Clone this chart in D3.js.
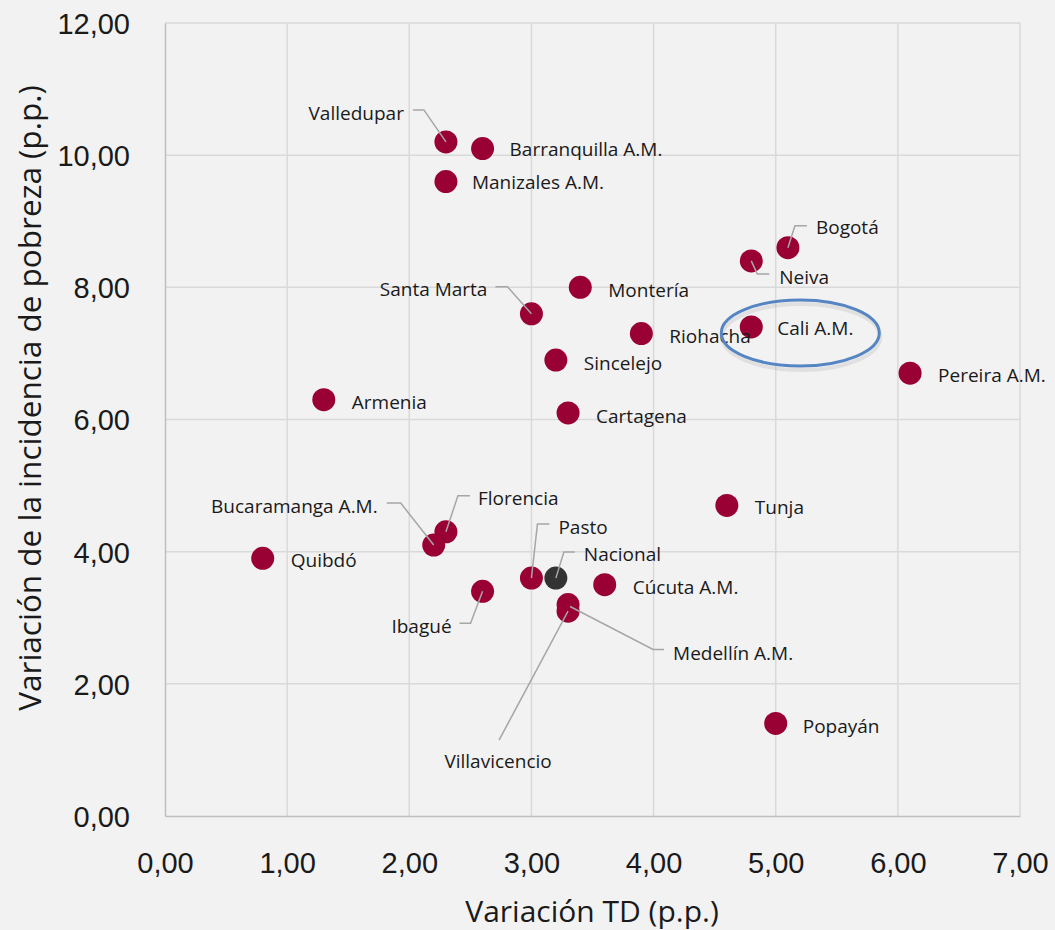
<!DOCTYPE html>
<html><head><meta charset="utf-8">
<script src="https://cdn.jsdelivr.net/npm/d3@7"></script>
<style>
html,body{margin:0;padding:0;background:#f2f2f2;}
svg{display:block;font-family:"Open Sans","Noto Sans",sans-serif;}
</style></head>
<body><svg id="c" width="1055" height="930"></svg>
<script>
// ---- data ----
const cities = ["Valledupar","Barranquilla A.M.","Manizales A.M.","Bogotá","Neiva","Santa Marta","Montería","Riohacha","Cali A.M.","Pereira A.M.","Sincelejo","Armenia","Cartagena","Tunja","Florencia","Bucaramanga A.M.","Quibdó","Pasto","Nacional","Cúcuta A.M.","Ibagué","Medellín A.M.","Villavicencio","Popayán"];
const tdVariation = [2.3,2.6,2.3,5.1,4.8,3.0,3.4,3.9,4.8,6.1,3.2,1.3,3.3,4.6,2.3,2.2,0.8,3.0,3.2,3.6,2.6,3.3,3.3,5.0];
const povertyVariation = [10.2,10.1,9.6,8.6,8.4,7.6,8.0,7.3,7.4,6.7,6.9,6.3,6.1,4.7,4.3,4.1,3.9,3.6,3.6,3.5,3.4,3.2,3.1,1.4];
const xTicks = [0,1,2,3,4,5,6,7];
const yTicks = [0,2,4,6,8,10,12];
const xTitle = "Variación TD (p.p.)";
const yTitle = "Variación de la incidencia de pobreza (p.p.)";
const highlighted = "Cali A.M.";
const nationalName = "Nacional";

// label layout (pixel offsets from point): [dx, dy, anchor, leader points relative to point]
const labelLayout = {
  "Valledupar": {dx:-42,dy:-29,a:"end",leader:[[0,0],[-22,-32],[-33,-32]]},
  "Barranquilla A.M.": {dx:27,dy:1,a:"start"},
  "Manizales A.M.": {dx:26,dy:1,a:"start"},
  "Bogotá": {dx:28,dy:-20,a:"start",leader:[[0,0],[7,-22],[19,-22]]},
  "Neiva": {dx:28,dy:16,a:"start",leader:[[0,0],[6,13],[18,13]]},
  "Santa Marta": {dx:-44,dy:-24,a:"end",leader:[[0,0],[-24,-27],[-36,-27]]},
  "Montería": {dx:28,dy:3,a:"start"},
  "Riohacha": {dx:28,dy:3,a:"start"},
  "Cali A.M.": {dx:26,dy:1,a:"start"},
  "Pereira A.M.": {dx:28,dy:2,a:"start"},
  "Sincelejo": {dx:28,dy:3,a:"start"},
  "Armenia": {dx:28,dy:3,a:"start"},
  "Cartagena": {dx:28,dy:3,a:"start"},
  "Tunja": {dx:28,dy:2,a:"start"},
  "Florencia": {dx:32,dy:-33,a:"start",leader:[[0,0],[12,-36],[24,-36]]},
  "Bucaramanga A.M.": {dx:-56,dy:-39,a:"end",leader:[[0,0],[-33,-42],[-47,-42]]},
  "Quibdó": {dx:28,dy:2,a:"start"},
  "Pasto": {dx:27,dy:-51,a:"start",leader:[[0,0],[6,-54],[18,-54]]},
  "Nacional": {dx:28,dy:-24,a:"start",leader:[[0,0],[8,-26],[19,-26]]},
  "Cúcuta A.M.": {dx:28,dy:3,a:"start"},
  "Ibagué": {dx:-31,dy:35,a:"end",leader:[[0,0],[-12,32],[-23,32]]},
  "Medellín A.M.": {dx:105,dy:49,a:"start",leader:[[2,2],[85,45],[96,45]]},
  "Villavicencio": {dx:-70,dy:150,a:"middle",leader:[[0,0],[-69,129]]},
  "Popayán": {dx:27,dy:3,a:"start"}
};

const svg = d3.select("#c");
const m = {l:165, r:1020, t:23, b:816};
const x = d3.scaleLinear().domain([0,7]).range([m.l,m.r]);
const y = d3.scaleLinear().domain([0,12]).range([m.b,m.t]);
const fmt = v => d3.format(".2f")(v).replace(".",",");

// grid
svg.append("g").selectAll("line").data(xTicks.slice(1)).join("line")
  .attr("x1",d=>x(d)).attr("x2",d=>x(d)).attr("y1",m.t).attr("y2",m.b)
  .attr("stroke","#d9d9d9").attr("stroke-width",1.5);
svg.append("g").selectAll("line").data(yTicks.slice(1)).join("line")
  .attr("x1",m.l).attr("x2",m.r).attr("y1",d=>y(d)).attr("y2",d=>y(d))
  .attr("stroke","#d9d9d9").attr("stroke-width",1.5);

// axes
const xAxis = svg.append("g").attr("transform",`translate(0,${m.b})`)
  .call(d3.axisBottom(x).tickValues(xTicks).tickFormat(fmt).tickSize(0).tickPadding(0));
xAxis.select(".domain").attr("stroke","#bfbfbf").attr("stroke-width",1.5);
xAxis.selectAll("text").attr("font-size",29).attr("fill","#1a1a1a").attr("y",57).attr("dy",null);

const yAxis = svg.append("g").attr("transform",`translate(${m.l},0)`)
  .call(d3.axisLeft(y).tickValues(yTicks).tickFormat(fmt).tickSize(0).tickPadding(35));
yAxis.select(".domain").attr("stroke","#bfbfbf").attr("stroke-width",1.5);
yAxis.selectAll("text").attr("font-size",29).attr("fill","#1a1a1a").attr("dy","0.36em");

// axis titles
svg.append("text").attr("x",592).attr("y",922).attr("text-anchor","middle")
  .attr("font-size",30).attr("fill","#1a1a1a").text(xTitle);
svg.append("text").attr("transform","translate(41,398) rotate(-90)")
  .attr("text-anchor","middle").attr("font-size",31.5).attr("fill","#1a1a1a").text(yTitle);

// data
const data = cities.map((c,i)=>({name:c, tx:tdVariation[i], py:povertyVariation[i]}));

// points
svg.append("g").selectAll("circle").data(data).join("circle")
  .attr("cx",d=>x(d.tx)).attr("cy",d=>y(d.py)).attr("r",11.5)
  .attr("fill",d=>d.name===nationalName?"#333333":"#990033");

// leader lines
svg.append("g").selectAll("polyline").data(data.filter(d=>labelLayout[d.name].leader)).join("polyline")
  .attr("points",d=>labelLayout[d.name].leader.map(p=>[x(d.tx)+p[0],y(d.py)+p[1]].join(",")).join(" "))
  .attr("fill","none").attr("stroke","#a6a6a6").attr("stroke-width",1.5);

// labels
svg.append("g").selectAll("text").data(data).join("text")
  .attr("x",d=>x(d.tx)+labelLayout[d.name].dx).attr("y",d=>y(d.py)+labelLayout[d.name].dy)
  .attr("dy","0.35em").attr("text-anchor",d=>labelLayout[d.name].a)
  .attr("font-size",19).attr("fill","#1a1a1a").text(d=>d.name);

// highlight ellipse
const hi = data.find(d=>d.name===highlighted);
svg.append("ellipse").attr("cx",x(hi.tx)+49).attr("cy",y(hi.py)+8).attr("rx",79).attr("ry",33)
  .attr("fill","none").attr("stroke","rgba(0,0,0,0.07)").attr("stroke-width",4).attr("transform","translate(1,2)");
svg.append("ellipse").attr("cx",x(hi.tx)+49).attr("cy",y(hi.py)+6).attr("rx",79).attr("ry",33)
  .attr("fill","none").attr("stroke","#5585c2").attr("stroke-width",3);
</script></body></html>
